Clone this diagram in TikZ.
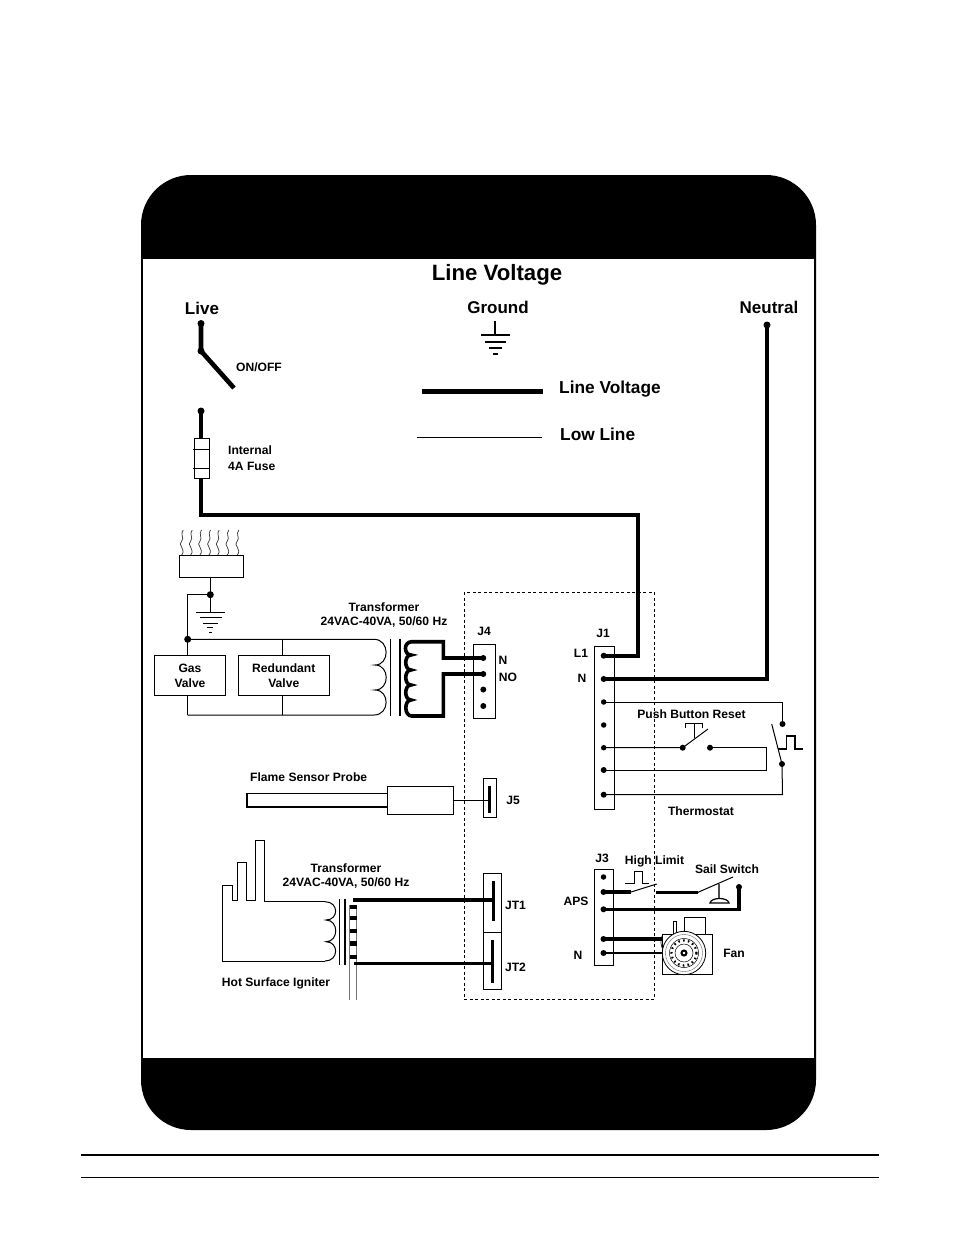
\documentclass[tikz,border=0pt]{standalone}
\usepackage{fontspec}
\setmainfont{Liberation Sans}
\begin{document}
\begin{tikzpicture}[x=1pt,y=-1pt,
  lbl/.style={inner sep=0pt,font=\bfseries\fontsize{12.1}{13.5}\selectfont,align=center},
  lblb/.style={inner sep=0pt,font=\bfseries\fontsize{17}{20}\selectfont},
  lblm/.style={inner sep=0pt,font=\bfseries\fontsize{17.3}{20}\selectfont},
  dot/.style={circle,fill=black,inner sep=0pt,minimum size=6pt},
  live/.style={line width=4.6pt},
  thin line/.style={line width=1pt},
  boxn/.style={draw,line width=1pt,inner sep=0pt,fill=white},
  grayl/.style={line width=0.9pt,draw=black!55}]
\useasboundingbox (0,0) rectangle (954,1235);
% frame
\fill[black,rounded corners=50pt] (141,175) rectangle (816,1130);
\fill[white] (143,259) rectangle (814,1058);
\draw[line width=2pt] (81,1155) -- (879,1155);
\draw[line width=1pt] (81,1177) -- (879,1177);
% titles
\node[inner sep=0pt,font=\bfseries\fontsize{22.2}{25}\selectfont] (title) at (497,274.5) {Line Voltage};
\node[lblb] (livel) at (202,308.5) {Live};
\node[lblb] (groundl) at (498,307.5) {Ground};
\node[lblb] (neutrall) at (769,307.5) {Neutral};
\node[lbl] (onoff) at (259,367.5) {ON/OFF};
\node[lbl,align=left,anchor=west] (fusel) at (228,458) {Internal\\[2.5pt]4A Fuse};
\node[lblm,anchor=west] (lvl) at (559,389.5) {Line Voltage};
\node[lblm,anchor=west] (lll) at (560,434.5) {Low Line};
% legend
\coordinate (la) at (422,391); \coordinate (lb) at (543,391);
\coordinate (lc) at (417,437); \coordinate (ld) at (542,437);
\draw[line width=5pt] (la) -- (lb);
\draw[line width=0.9pt] (lc) -- (ld);
% ground symbol
\coordinate (g0) at (495,321);
\coordinate (g1) at (495,335);
\draw[line width=1.6pt] (g0) -- (g1);
\draw[line width=1.6pt] (481,335) -- (510,335);
\draw[line width=1.6pt] (485,342) -- (506,342);
\draw[line width=1.6pt] (489,348) -- (502,348);
\draw[line width=1.6pt] (493,354) -- (498,354);
% switch and fuse
\node[dot,minimum size=7pt] (live) at (201,323.5) {};
\node[dot,minimum size=7pt] (sw) at (201,351) {};
\coordinate (swend) at (234,388);
\node[dot,minimum size=7pt] (fusetop) at (201,411) {};
\node[boxn,minimum width=15pt,minimum height=40pt] (fuse) at (201.8,458.3) {};
\draw[live] (live.center) -- (sw.center) -- (swend);
\draw[live] (fusetop.center) -- (fuse.north -| fusetop);
\draw[thin line] (193,449.3) -- (210,449.3) (193,468.3) -- (210,468.3);
% J1
\node[boxn,minimum width=20pt,minimum height=163pt] (J1) at (604.3,727.5) {};
\node[dot] (j1a) at (603.7,655.7) {};
\node[dot] (j1b) at (603.7,679) {};
\node[dot,minimum size=5.5pt] (j1c) at (603.7,702) {};
\node[dot,minimum size=5.5pt] (j1d) at (603.7,725) {};
\node[dot,minimum size=5.5pt] (j1e) at (603.7,747.7) {};
\node[dot] (j1f) at (603.7,770) {};
\node[dot] (j1g) at (603.7,794.7) {};
\node[lbl] (j1l) at (603,633) {J1};
\node[lbl] (l1l) at (581,653) {L1};
\node[lbl] (nl) at (582,678) {N};
% Line voltage run
\coordinate (c1) at (201,515); \coordinate (c2) at (638,515); \coordinate (c3) at (638,655.7);
\draw[line width=4pt] (fuse.south -| fusetop) -- (c1) -- (c2) -- (c3) -- (j1a.center);
\node[dot,minimum size=7pt] (neutral) at (767,325) {};
\coordinate (c4) at (767,679);
\draw[live] (neutral.center) -- (c4) -- (j1b.center);
% thermostat
\node[dot] (th1) at (782.5,724) {};
\node[dot] (th2) at (782,764) {};
\coordinate (thsw) at (771.7,724);
\coordinate (c5) at (782.5,702);
\coordinate (c6) at (782.5,794.7);
\draw[thin line] (j1c.center) -- (c5) -- (th1.center);
\draw[thin line] (th2.center) -- (thsw);
\draw[thin line] (th2.center) -- (c6) -- (j1g.center);
\draw[line width=1.2pt] (778,749) -- (786.7,749) -- (786.7,736) -- (795,736) -- (795,749) -- (802.7,749);
\node[dot] (pb1) at (682.7,747.7) {};
\node[dot] (pb2) at (710,747.7) {};
\coordinate (pbend) at (708,729);
\coordinate (c7) at (766,747.7); \coordinate (c8) at (766,770);
\draw[thin line] (j1e.center) -- (pb1.center) -- (pbend);
\draw[thin line] (pb2.center) -- (c7) -- (c8) -- (j1f.center);
\draw[thin line] (694,723) -- (694,738);
\draw[thin line] (685,728) -- (685,723) -- (702.7,723) -- (702.7,728);
\node[lbl] (pbl) at (691.5,714) {Push Button Reset};
\node[lbl] (thl) at (701,811) {Thermostat};
% dashed
\draw[dashed,line width=0.8pt,dash pattern=on 3pt off 2.5pt] (464,592) rectangle (654,999);
% burner
\node[boxn,minimum width=64pt,minimum height=22pt] (burner) at (211.3,566.3) {};
\draw[line width=1.6pt] (243.3,555.3) -- (243.3,577.3);
\foreach \fx in {181.7,190.7,200,209,217.7,227.3,237.3}{
  \draw[line width=0.7pt,draw=black!80] (\fx,555) .. controls (\fx+5,549) and (\fx-5,545) .. (\fx,541) .. controls (\fx+3,538) and (\fx-2,534) .. (\fx+1.5,530);
}
\node[dot,minimum size=7pt] (gj) at (210.3,594.7) {};
\coordinate (gtop) at (210.3,612.7);
\draw[thin line] (burner.south -| gj) -- (gtop);
\draw[line width=1.2pt] (196,612.7) -- (225.3,612.7);
\draw[line width=1.2pt] (200,617.7) -- (221.7,617.7);
\draw[line width=1.2pt] (203,623.3) -- (217.7,623.3);
\draw[line width=1.2pt] (206.7,627.7) -- (213.3,627.7);
\draw[line width=1.2pt] (209,632.7) -- (212,632.7);
% valves
\node[dot,minimum size=7pt] (vj) at (187.7,639.3) {};
\node[boxn,lbl,minimum width=71.5pt,minimum height=39.5pt] (gas) at (190,675.7) {Gas\\[1.5pt]Valve};
\node[boxn,lbl,minimum width=91pt,minimum height=39.5pt] (red) at (283.8,675.7) {Redundant\\[1.5pt]Valve};
\coordinate (c9) at (187.7,594.7);
\draw[line width=1.2pt] (gj.center) -- (c9) -- (vj.center);
\coordinate (pt) at (374,639.3); \coordinate (pb) at (374,715);
\coordinate (b1) at (187.7,715); \coordinate (b2) at (282.3,715); \coordinate (t2) at (282.3,639.3);
\draw[thin line] (vj.center) -- (gas.north -| vj);
\draw[thin line] (t2) -- (red.north -| t2);
\draw[thin line] (gas.south -| b1) -- (b1);
\draw[thin line] (red.south -| b2) -- (b2);
\draw[thin line] (vj.center) -- (pt)
  .. controls (390,639.3) and (390,665) .. (375,665)
  .. controls (390,665) and (390,690) .. (375,690)
  .. controls (390,690) and (390,715) .. (pb) -- (b1);
\draw[thin line] (390.7,639) -- (390.7,716);
\draw[line width=1.6pt] (400,639) -- (400,716);
\node[lbl] (tr1) at (384,615.5) {Transformer\\[0.5pt]24VAC-40VA, 50/60 Hz};
% J4
\node[boxn,minimum width=22.4pt,minimum height=74pt] (J4) at (484.5,681) {};
\node[dot] (j4a) at (483.3,658) {};
\node[dot] (j4b) at (483.3,674) {};
\node[dot] (j4c) at (483.3,689.5) {};
\node[dot] (j4d) at (483.3,706) {};
\node[lbl] (j4l) at (484,631) {J4};
\node[lbl] (j4n) at (503,660) {N};
\node[lbl] (j4no) at (508,677) {NO};
\coordinate (s1) at (443.3,658); \coordinate (s2) at (443.3,641.7); \coordinate (s3) at (411.7,641.7);
\coordinate (s4) at (411.7,716); \coordinate (s5) at (443.3,716); \coordinate (s6) at (443.3,674);
\draw[line width=3.6pt] (j4a.center) -- (s1) -- (s2) -- (s3)
  .. controls (403,642) and (404,655) .. (411,655)
  .. controls (404,655) and (404,670) .. (411,670)
  .. controls (404,670) and (404,685) .. (411,685)
  .. controls (404,685) and (404,700) .. (411,700)
  .. controls (404,700) and (404,716) .. (s4)
  -- (s5) -- (s6) -- (j4b.center);
% flame sensor
\node[boxn,minimum width=140pt,minimum height=14pt] (probe) at (317.3,800.3) {};
\draw[line width=2pt] (387,807.3) -- (247.3,807.3) -- (247.3,793.3);
\node[boxn,minimum width=66pt,minimum height=28.3pt] (psb) at (420.3,800.8) {};
\node[boxn,minimum width=13.4pt,minimum height=39.4pt] (J5) at (490,798) {};
\coordinate (j5bar) at (489.7,800);
\draw[thin line] (psb.east |- j5bar) -- (j5bar);
\draw[line width=2.5pt] (489.7,785.7) -- (489.7,813);
\node[lbl,anchor=west] (fsl) at (250,777) {Flame Sensor Probe};
\node[lbl] (j5l) at (513,800.5) {J5};
% igniter
\coordinate (p0) at (325,961); \coordinate (p1) at (325,901.7);
\draw[thin line] (p0) -- (222.3,961) -- (222.3,885.7) -- (232.3,885.7) -- (232.3,900.7) -- (237.3,900.7) -- (237.3,862.3) -- (246,862.3) -- (246,900.7) -- (255.7,900.7) -- (255.7,840.7) -- (264,840.7) -- (264,901.7) -- (p1);
\draw[line width=1.5pt] (264,901.7) -- (p1);
\draw[thin line] (p1)
  .. controls (339,901.7) and (339,920) .. (326,920)
  .. controls (339,920) and (339,941.7) .. (326,941.7)
  .. controls (339,941.7) and (339,961) .. (p0);
\draw[thin line] (339.3,899) -- (339.3,965);
\draw[line width=1.6pt] (345,899) -- (345,965);
\draw[grayl] (349,905) -- (349,999.5);
\draw[grayl] (356.7,905) -- (356.7,999.5);
\foreach \sy in {907,917.7,931,943.3,956.7}{\fill (350,\sy-2.2) rectangle (356.7,\sy+2.2);}
\node[boxn,minimum width=18.4pt,minimum height=59pt] (JT1) at (492.5,902.8) {};
\node[boxn,minimum width=18.4pt,minimum height=57pt] (JT2) at (492.5,960.8) {};
\coordinate (t1a) at (353.3,899.7); \coordinate (t1b) at (493.3,899.7);
\coordinate (t2a) at (354.3,963.3); \coordinate (t2b) at (492.5,963.3);
\draw[line width=3.6pt] (t1a) -- (t1b);
\draw[line width=3.6pt] (t2a) -- (t2b);
\draw[line width=3pt] (493.3,880.7) -- (493.3,920.7);
\draw[line width=3pt] (492.5,940) -- (492.5,982.7);
\node[lbl] (tr2) at (346,876) {Transformer\\[0.5pt]24VAC-40VA, 50/60 Hz};
\node[lbl] (hsi) at (276,983.5) {Hot Surface Igniter};
\node[lbl] (jt1l) at (515.5,905) {JT1};
\node[lbl] (jt2l) at (515.5,967) {JT2};
% J3
\node[boxn,minimum width=19pt,minimum height=95.7pt] (J3) at (603.8,917.2) {};
\node[dot,minimum size=5.5pt] (j3a) at (603.5,877) {};
\node[dot] (j3b) at (603.5,892) {};
\node[dot] (j3c) at (603.5,909.3) {};
\node[dot] (j3d) at (603.5,939) {};
\node[dot] (j3e) at (603.5,953) {};
\node[lbl] (j3l) at (602,858) {J3};
\node[lbl] (apsl) at (576,901) {APS};
\node[lbl] (nl3) at (578,955) {N};
\node[lbl] (hll) at (654.5,861) {High Limit};
\node[lbl] (ssl) at (727,869.5) {Sail Switch};
\node[lbl] (fanl) at (734,953) {Fan};
\coordinate (h1) at (631,892); \coordinate (h2) at (656.7,884);
\coordinate (h3) at (656,892.3); \coordinate (h4) at (698,892.3); \coordinate (h5) at (733,877);
\draw[line width=3.6pt] (j3b.center) -- (h1);
\draw[thin line] (h1) -- (h2);
\draw[line width=3.6pt] (h3) -- (h4);
\draw[thin line] (h4) -- (h5);
\draw[line width=1pt] (625,883) -- (634,883) -- (634,871) -- (642,871) -- (642,883) -- (649,883);
\draw[line width=1.4pt,draw=black!70] (719,884) -- (719,899);
\draw[line width=1.2pt] (710,903) .. controls (711,897) and (728,897) .. (729,903) -- cycle;
\node[dot] (ss) at (739,887) {};
\coordinate (h6) at (739,909.3);
\draw[line width=3.4pt] (j3c.center) -- (h6) -- (ss.center);
% fan
\draw[thin line] (662,934) rectangle (712,974);
\draw[thin line] (684,934) -- (684,917) -- (705.7,917) -- (705.7,934);
\draw[line width=0.6pt] (662,936) arc (200:110:17);
\draw[thin line,fill=white] (673,921) rectangle (676,936);
\node[circle,draw,line width=0.8pt,fill=white,minimum size=43.4pt,inner sep=0pt] (fan) at (684,953) {};
\draw[line width=0.4pt,draw=black!60] (684,953) circle (18.5);
\draw[line width=2.2pt,dash pattern=on 1.6pt off 3.2pt] (684,953) circle (12.5);
\draw[line width=0.5pt] (684,953) circle (14.5);
\draw[line width=0.5pt] (684,953) circle (9);
\draw[line width=2pt] (684,953) circle (2.5);
\coordinate (f1) at (662.5,939); \coordinate (f2) at (662.5,953);
\draw[line width=3.6pt] (j3d.center) -- (f1);
\draw[line width=1.8pt] (j3e.center) -- (f2);
\end{tikzpicture}
\end{document}
